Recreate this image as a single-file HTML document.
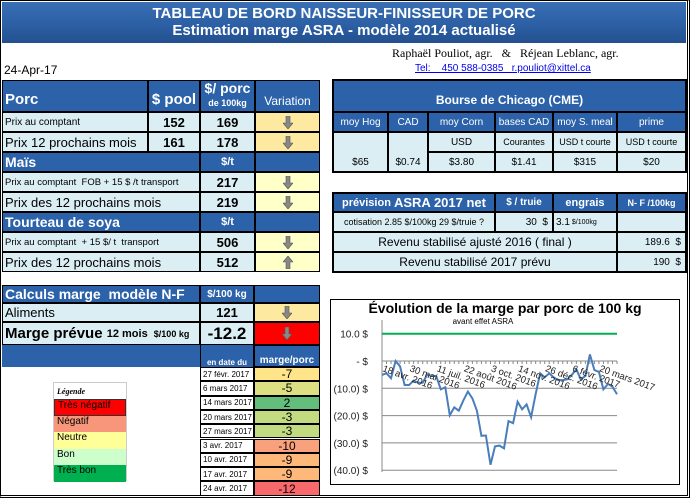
<!DOCTYPE html>
<html><head><meta charset="utf-8"><style>
body{margin:0;width:690px;height:500px;background:#fff;position:relative;overflow:hidden;font-family:"Liberation Sans",sans-serif}
.c{position:absolute;box-sizing:border-box;border:1px solid #000;display:flex;align-items:center;justify-content:center;font-size:11px;color:#000;white-space:nowrap;overflow:hidden}
.b{background:#2c62a9;color:#fff;font-weight:bold}
.l{background:#dbeef3}
.y{background:#fde9a0}
.y2{background:#ffffc8}
.L{justify-content:flex-start;padding-left:2px}
.R{justify-content:flex-end;padding-right:4px}
.num{font-weight:bold;font-size:13px}
.ar{width:10px;height:13px}
</style></head><body>
<div style="position:absolute;left:0;top:0;width:690px;height:498px;box-sizing:border-box;border:1px solid #000;border-right:3px double #000;border-bottom:3px double #000"></div>
<div style="position:absolute;left:2px;top:2px;width:684px;height:41px;background:linear-gradient(#3a6fb5,#2b5ea3 60%,#24508f);color:#fff;font-weight:bold;text-align:center;font-size:15px;line-height:17px;padding-top:3px;box-sizing:border-box">
<div>TABLEAU DE BORD NAISSEUR-FINISSEUR DE PORC</div>
<div>Estimation marge ASRA - modèle 2014 actualisé</div></div>
<div style="position:absolute;left:392px;top:46px;font-family:'Liberation Serif',serif;font-size:12px">Raphaël Pouliot, agr. &nbsp;&nbsp;&amp;&nbsp;&nbsp; Réjean Leblanc, agr.</div>
<a style="position:absolute;left:415px;top:63px;font-size:10px;color:#0000ee;text-decoration:underline">Tel: &nbsp;&nbsp; 450 588-0385 &nbsp; r.pouliot@xittel.ca</a>
<div style="position:absolute;left:4px;top:63px;font-size:12px">24-Apr-17</div>
<svg width="0" height="0" style="position:absolute"><defs><symbol id="dn" viewBox="0 0 10 13"><path d="M3 0h4v7h3l-5 6-5-6h3z" fill="#888" stroke="#555" stroke-width=".6"/></symbol><symbol id="up" viewBox="0 0 10 13"><path d="M3 13h4v-7h3l-5-6-5 6h3z" fill="#888" stroke="#555" stroke-width=".6"/></symbol></defs></svg>

<!-- Porc -->
<div class="c b L" style="left:2px;top:80px;width:146px;height:32px;font-size:15px;align-items:flex-end;padding-bottom:3px">Porc</div>
<div class="c b" style="left:148px;top:80px;width:52px;height:32px;font-size:15px;align-items:flex-end;padding-bottom:3px">$ pool</div>
<div class="c b" style="left:200px;top:80px;width:55px;height:32px;flex-direction:column;font-size:14px;line-height:15px">$/ porc<span style="font-size:9px">de 100kg</span></div>
<div class="c b" style="left:255px;top:80px;width:65px;height:32px;font-size:12px;font-weight:normal;align-items:flex-end;padding-bottom:3px">Variation</div>
<div class="c l L" style="left:2px;top:112px;width:146px;height:20px;font-size:10px">Prix au comptant</div>
<div class="c l num" style="left:148px;top:112px;width:52px;height:20px">152</div>
<div class="c l num" style="left:200px;top:112px;width:55px;height:20px">169</div>
<div class="c y" style="left:255px;top:112px;width:65px;height:20px"><svg class="ar"><use href="#dn"/></svg></div>
<div class="c l L" style="left:2px;top:132px;width:146px;height:20px;font-size:13px">Prix 12 prochains mois</div>
<div class="c l num" style="left:148px;top:132px;width:52px;height:20px">161</div>
<div class="c l num" style="left:200px;top:132px;width:55px;height:20px">178</div>
<div class="c y" style="left:255px;top:132px;width:65px;height:20px"><svg class="ar"><use href="#dn"/></svg></div>
<!-- Mais -->
<div class="c b L" style="left:2px;top:152px;width:198px;height:20px;font-size:14px">Maïs</div>
<div class="c b" style="left:200px;top:152px;width:55px;height:20px">$/t</div>
<div class="c b" style="left:255px;top:152px;width:65px;height:20px"></div>
<div class="c l L" style="left:2px;top:172px;width:198px;height:20px;font-size:9.5px">Prix au comptant &nbsp;FOB + 15 $ /t transport</div>
<div class="c l num" style="left:200px;top:172px;width:55px;height:20px">217</div>
<div class="c y2" style="left:255px;top:172px;width:65px;height:20px"><svg class="ar"><use href="#dn"/></svg></div>
<div class="c l L" style="left:2px;top:192px;width:198px;height:20px;font-size:13px">Prix des 12 prochains mois</div>
<div class="c l num" style="left:200px;top:192px;width:55px;height:20px">219</div>
<div class="c y2" style="left:255px;top:192px;width:65px;height:20px"><svg class="ar"><use href="#dn"/></svg></div>
<!-- Soya -->
<div class="c b L" style="left:2px;top:212px;width:198px;height:20px;font-size:14px">Tourteau de soya</div>
<div class="c b" style="left:200px;top:212px;width:55px;height:20px">$/t</div>
<div class="c b" style="left:255px;top:212px;width:65px;height:20px"></div>
<div class="c l L" style="left:2px;top:232px;width:198px;height:20px;font-size:9.5px">Prix au comptant &nbsp;+ 15 $/ t &nbsp;transport</div>
<div class="c l num" style="left:200px;top:232px;width:55px;height:20px">506</div>
<div class="c y2" style="left:255px;top:232px;width:65px;height:20px"><svg class="ar"><use href="#dn"/></svg></div>
<div class="c l L" style="left:2px;top:252px;width:198px;height:20px;font-size:13px">Prix des 12 prochains mois</div>
<div class="c l num" style="left:200px;top:252px;width:55px;height:20px">512</div>
<div class="c y2" style="left:255px;top:252px;width:65px;height:20px"><svg class="ar"><use href="#up"/></svg></div>
<!-- Calculs -->
<div class="c b L" style="left:2px;top:285px;width:198px;height:18px;font-size:14px">Calculs marge &nbsp;modèle N-F</div>
<div class="c b" style="left:200px;top:285px;width:54px;height:18px;font-size:10px">$/100 kg</div>
<div class="c b" style="left:254px;top:285px;width:66px;height:18px"></div>
<div class="c l L" style="left:2px;top:303px;width:198px;height:19px;font-size:13px">Aliments</div>
<div class="c l num" style="left:200px;top:303px;width:54px;height:19px">121</div>
<div class="c y" style="left:254px;top:303px;width:66px;height:19px"><svg class="ar"><use href="#dn"/></svg></div>
<div class="c l L" style="left:2px;top:322px;width:198px;height:23px;font-weight:bold;font-size:15px">Marge prévue&nbsp;<span style="font-size:11px">12 mois &nbsp;<span style="font-size:9px">$/100 kg</span></span></div>
<div class="c l" style="left:200px;top:322px;width:54px;height:23px;font-weight:bold;font-size:17px">-12.2</div>
<div class="c" style="left:254px;top:322px;width:66px;height:23px;background:#f00"><svg class="ar"><use href="#dn"/></svg></div>
<div class="c b" style="left:2px;top:345px;width:318px;height:22px;border-width:0"></div>
<div class="c b" style="left:200px;top:345px;width:54px;height:22px;font-size:8px;align-items:flex-end;border-width:0 1px">en date du</div>
<div class="c b" style="left:254px;top:345px;width:66px;height:22px;font-size:10px;align-items:flex-end">marge/porc</div>
<div id="hist"></div>
<!-- Legend -->
<div style="position:absolute;left:53px;top:382px;width:74px;height:99px;border:1px solid #ccc;font-size:10px;box-sizing:border-box">
<div style="height:16px;font-style:italic;font-weight:bold;font-size:8px;padding-left:3px;line-height:18px;font-family:'Liberation Serif',serif">Légende</div>
<div style="height:16.5px;background:#f00;padding-left:3px;border:1px solid #333;box-sizing:border-box">Très négatif</div>
<div style="height:16.5px;background:#f7967a;padding-left:3px">Négatif</div>
<div style="height:16.5px;background:#ffff99;padding-left:3px">Neutre</div>
<div style="height:16.5px;background:#ccffcc;padding-left:3px">Bon</div>
<div style="height:16.5px;background:#00b050;padding-left:3px">Très bon</div>
</div>
<!-- Bourse -->
<div style="position:absolute;left:332px;top:79px;width:355px;height:94px;border:2px solid #000;box-sizing:border-box"></div>
<div class="c b" style="left:333px;top:80px;width:353px;height:32px;font-size:12px;align-items:flex-end;padding-bottom:4px">Bourse de Chicago (CME)</div>
<div class="c b" style="left:333px;top:112px;width:55px;height:20px;font-weight:normal;font-size:10px">moy Hog</div>
<div class="c b" style="left:388px;top:112px;width:40px;height:20px;font-weight:normal;font-size:10px">CAD</div>
<div class="c b" style="left:428px;top:112px;width:67px;height:20px;font-weight:normal;font-size:10px">moy Corn</div>
<div class="c b" style="left:495px;top:112px;width:58px;height:20px;font-weight:normal;font-size:10px">bases CAD</div>
<div class="c b" style="left:553px;top:112px;width:64px;height:20px;font-weight:normal;font-size:10px">moy S. meal</div>
<div class="c b" style="left:617px;top:112px;width:69px;height:20px;font-weight:normal;font-size:10px">prime</div>
<div class="c l" style="left:333px;top:132px;width:55px;height:40px;align-items:flex-end;padding-bottom:3px;font-size:10px">$65</div>
<div class="c l" style="left:388px;top:132px;width:40px;height:40px;align-items:flex-end;padding-bottom:3px;font-size:10px">$0.74</div>
<div class="c l" style="left:428px;top:132px;width:67px;height:20px;font-size:10px">USD</div>
<div class="c l" style="left:495px;top:132px;width:58px;height:20px;font-size:9px">Courantes</div>
<div class="c l" style="left:553px;top:132px;width:64px;height:20px;font-size:9px">USD t courte</div>
<div class="c l" style="left:617px;top:132px;width:69px;height:20px;font-size:9px">USD t courte</div>
<div class="c l" style="left:428px;top:152px;width:67px;height:20px;font-size:10px">$3.80</div>
<div class="c l" style="left:495px;top:152px;width:58px;height:20px;font-size:10px">$1.41</div>
<div class="c l" style="left:553px;top:152px;width:64px;height:20px;font-size:10px">$315</div>
<div class="c l" style="left:617px;top:152px;width:69px;height:20px;font-size:10px">$20</div>
<!-- Prevision -->
<div style="position:absolute;left:332px;top:192px;width:355px;height:81px;border:2px solid #000;box-sizing:border-box"></div>
<div class="c b" style="left:333px;top:193px;width:162px;height:19px;font-size:11px">prévision&nbsp;<span style="font-size:13px">ASRA 2017 net</span></div>
<div class="c b" style="left:495px;top:193px;width:58px;height:19px;font-size:10px">$ / truie</div>
<div class="c b" style="left:553px;top:193px;width:64px;height:19px;font-size:11px">engrais</div>
<div class="c b" style="left:617px;top:193px;width:69px;height:19px;font-size:9px">N- F /100kg</div>
<div class="c l" style="left:333px;top:212px;width:162px;height:20px;font-size:9px">cotisation 2.85 $/100kg 29 $/truie ?</div>
<div class="c l R" style="left:495px;top:212px;width:58px;height:20px;font-size:10px">30 &nbsp;$</div>
<div class="c l L" style="left:553px;top:212px;width:64px;height:20px;font-size:10px">3.1 <span style="font-size:7px">&nbsp;$/100kg</span></div>
<div class="c l" style="left:617px;top:212px;width:69px;height:20px"></div>
<div class="c l" style="left:333px;top:232px;width:284px;height:20px;font-size:12px">Revenu stabilisé ajusté 2016 ( final )</div>
<div class="c l R" style="left:617px;top:232px;width:69px;height:20px;font-size:10px">189.6 &nbsp;$</div>
<div class="c l" style="left:333px;top:252px;width:284px;height:20px;font-size:12px">Revenu stabilisé 2017 prévu</div>
<div class="c l R" style="left:617px;top:252px;width:69px;height:20px;font-size:10px">190 &nbsp;$</div>
<!-- Chart -->
<div style="position:absolute;left:330px;top:299px;width:350px;height:186px;border:1px solid #000;box-sizing:border-box"></div>
<svg id="chart" width="690" height="500" style="position:absolute;left:0;top:0;pointer-events:none;font-family:'Liberation Sans',sans-serif"></svg>
<script>
var histDates=["27 févr. 2017","6 mars 2017","14 mars 2017","20 mars 2017","27 mars 2017","3 avr. 2017","10 avr. 2017","17 avr. 2017","24 avr. 2017"];
var histValues=[-7,-5,2,-3,-3,-10,-9,-9,-12];
var histColors=["#ffe48a","#dde082","#63be7b","#c2db80","#c2db80","#f9a07c","#fdb87a","#fdb87a","#f8696b"];
var margeValues=[-5.1,-4.5,-6.3,0,-2,-8.8,-8.8,-7.2,-8,-8,-5,-5.5,-5.5,-10.4,-9.6,-19.9,-17,-18.2,-14.5,-11.2,-13.7,-18.2,-27.4,-27.3,-38,-31.3,-31,-32,-22,-22.8,-14.9,-17.7,-15.9,-20.6,-12,-4.5,-6,-4.5,-6,-7,-7,-6.7,-5.1,-3,-6.7,-5.5,2.4,-3.3,-4,-10.4,-8.4,-9.4,-12.2];
var xLabels=["18 avr. 2016","30 mai 2016","11 juil. 2016","22 août 2016","3 oct. 2016","14 nov. 2016","26 déc. 2016","6 févr. 2017","20 mars 2017"];
var yTicks=[10,0,-10,-20,-30,-40];
var yTickLabels=["10.0  $","-    $","(10.0) $","(20.0) $","(30.0) $","(40.0) $"];
var targetLine=10;

var hist=document.getElementById('hist');
for(var i=0;i<histDates.length;i++){
  var rowTop=367+i*14.3;
  var d=document.createElement('div');
  d.className='c';
  
  
  d.style.cssText='left:200px;top:'+rowTop+'px;width:54px;height:14.3px;font-size:8px;justify-content:flex-start;padding-left:2px;background:#fff';
  d.textContent=histDates[i];hist.appendChild(d);
  var v=document.createElement('div');
  v.className='c';
  
  
  v.style.cssText='left:254px;top:'+rowTop+'px;width:66px;height:14.3px;font-size:12px;background:'+histColors[i];
  v.textContent=histValues[i];hist.appendChild(v);
}
var NS='http://www.w3.org/2000/svg',svg=document.getElementById('chart');
function el(t,a,p){var e=document.createElementNS(NS,t);for(var k in a)e.setAttribute(k,a[k]);(p||svg).appendChild(e);return e;}
var X0=382,X1=617,n=margeValues.length;
function xs(i){return X0+i*(X1-X0)/(n-1);}
function ys(v){return 361-v*2.73;}
var ttl=el('text',{x:505,y:313,'text-anchor':'middle','font-size':14,'font-weight':'bold'});ttl.textContent='Évolution de la marge par porc de 100 kg';


var st=el('text',{x:483,y:324,'text-anchor':'middle','font-size':8});st.textContent='avant effet ASRA';


el('line',{x1:382,y1:320,x2:382,y2:472,stroke:'#888'});
yTicks.forEach(function(v,i){
  if(v<0){var g=el('line',{x1:X0,x2:X1,y1:ys(v),y2:ys(v),stroke:'#888'});
  
  }
  var l=el('text',{x:368,y:ys(v)+4,'text-anchor':'end','font-size':10,fill:'#222'});l.textContent=yTickLabels[i];
  
  
});
var ax=el('line',{x1:X0,x2:X1,y1:ys(0),y2:ys(0),stroke:'#888'});


for(var i=0;i<n;i++){el('line',{x1:xs(i),x2:xs(i),y1:ys(0),y2:ys(0)+3,stroke:'#888'});}
var tl=el('line',{x1:X0,x2:X1,y1:ys(targetLine),y2:ys(targetLine),stroke:'#00b050','stroke-width':2});


var pts=margeValues.map(function(v,i){return xs(i).toFixed(1)+','+ys(v).toFixed(1);}).join(' ');
var pl=el('polyline',{points:pts,fill:'none',stroke:'#4a7ebb','stroke-width':2});


xLabels.forEach(function(s,k){
  var x=xs(k*6),y=ys(0)+10;
  var l=el('text',{x:x,y:y,'font-size':9.5,fill:'#222',transform:'rotate(20 '+x+' '+y+')'});l.textContent=s;
  
  
});
</script>
</body></html>
